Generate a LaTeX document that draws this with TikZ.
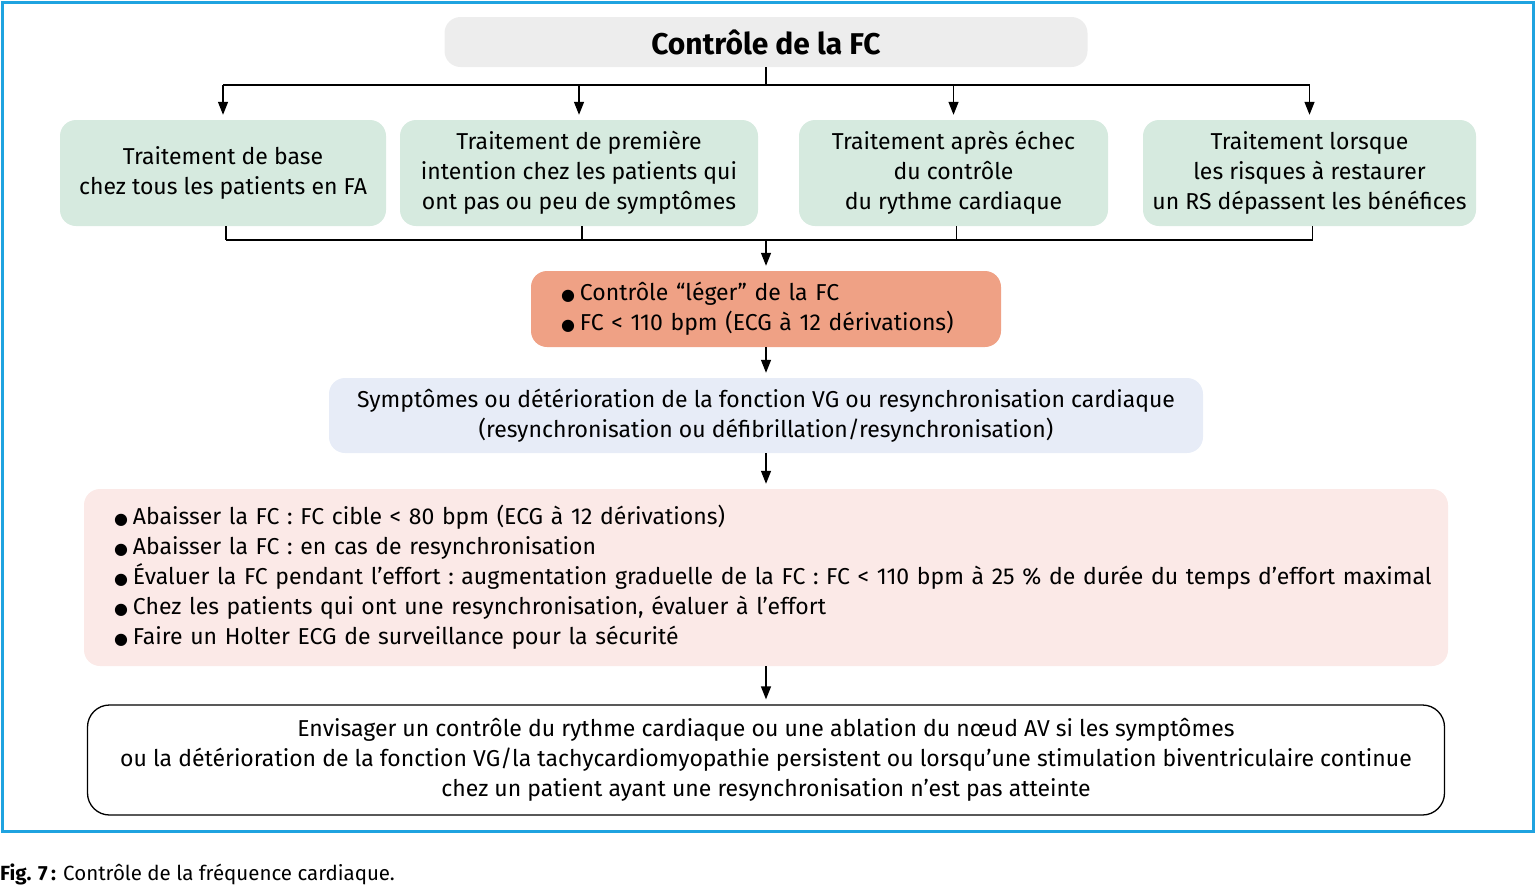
\documentclass[tikz,border=0pt]{standalone}
\usepackage{fontspec}
\setmainfont{Fira Sans}
\newfontfamily\symf{DejaVu Sans}
\usetikzlibrary{arrows.meta}
\definecolor{frameblue}{HTML}{1FA3E0}
\definecolor{boxgray}{HTML}{EDEDED}
\definecolor{boxgreen}{HTML}{D6EADF}
\definecolor{boxorange}{HTML}{EFA185}
\definecolor{boxblue}{HTML}{E7ECF7}
\definecolor{boxpink}{HTML}{FBE9E7}
\newcommand{\bul}{{\symf\fontsize{16}{16}\selectfont ●}\hspace{5pt}}
\tikzset{
  txt/.style={font=\frenchspacing\fontsize{23}{30}\selectfont, text=black},
  basebox/.style={txt, rounded corners=16pt, inner sep=0pt, align=center},
  graybox/.style={basebox, fill=boxgray},
  greenbox/.style={basebox, fill=boxgreen},
  orangebox/.style={basebox, fill=boxorange},
  bluebox/.style={basebox, fill=boxblue},
  pinkbox/.style={basebox, fill=boxpink},
  whitebox/.style={basebox, draw=black, line width=1.3pt, fill=white, rounded corners=22pt},
  conn/.style={line width=1.3pt, black},
  arr/.style={conn, -{Triangle[length=13pt,width=10pt]}, shorten >=5pt},
}
\begin{document}
\begin{tikzpicture}[x=1pt,y=-1pt]
\useasboundingbox (0,0) rectangle (1536,884);
\draw[line width=3pt, frameblue] (2,2) rectangle (1533,831);

\node[graybox, minimum width=643, minimum height=50, font=\fontsize{30}{30}\selectfont\bfseries] (title) at (766,42) {Contrôle de la FC};

\node[greenbox, minimum width=326, minimum height=106] (b1) at (223,173) {Traitement de base\\chez tous les patients en FA};
\node[greenbox, minimum width=358, minimum height=106] (b2) at (579,173) {Traitement de première\\intention chez les patients qui\\ont pas ou peu de symptômes};
\node[greenbox, minimum width=309, minimum height=106] (b3) at (953.5,173) {Traitement après échec\\du contrôle\\du rythme cardiaque};
\node[greenbox, minimum width=333, minimum height=106] (b4) at (1309.5,173) {Traitement lorsque\\les risques à restaurer\\un RS dépassent les bénéfices};

\node[orangebox, minimum height=76, text width=410, inner xsep=30pt, align=left] (orange) at (766,309) {\bul Contrôle “léger” de la FC\\\bul FC < 110 bpm (ECG à 12 dérivations)};

\node[bluebox, minimum width=874, minimum height=75] (blue) at (766,415.5) {Symptômes ou détérioration de la fonction VG ou resynchronisation cardiaque\\(resynchronisation ou défibrillation/resynchronisation)};

\node[pinkbox, minimum height=177, text width=1304, inner xsep=30pt, align=left] (pink) at (766,577.5) {\bul Abaisser la FC : FC cible < 80 bpm (ECG à 12 dérivations)\\
\bul Abaisser la FC : en cas de resynchronisation\\
\mbox{\bul Évaluer la FC pendant l’effort : augmentation graduelle de la FC : FC < 110 bpm à 25 \% de durée du temps d’effort maximal}\\
\bul Chez les patients qui ont une resynchronisation, évaluer à l’effort\\
\bul Faire un Holter ECG de surveillance pour la sécurité};

\node[whitebox, minimum width=1357, minimum height=110] (final) at (766,760) {Envisager un contrôle du rythme cardiaque ou une ablation du nœud AV si les symptômes\\ou la détérioration de la fonction VG/la tachycardiomyopathie persistent ou lorsqu’une stimulation biventriculaire continue\\chez un patient ayant une resynchronisation n’est pas atteinte};

% top split
\coordinate (split) at (766,85);
\draw[conn] (title.south) -- (split);
\draw[conn] (b1.north |- split) -- (b4.north |- split);
\foreach \b in {b1,b2,b3,b4} \draw[arr] (\b.north |- split) -- (\b.north);

% bottom merge
\coordinate (merge) at (766,240);
\draw[conn] ([xshift=3pt]b1.south) -- ([xshift=3pt]b1.south |- merge);
\draw[conn] ([xshift=3pt]b2.south) -- ([xshift=3pt]b2.south |- merge);
\draw[conn] ([xshift=3pt]b3.south) -- ([xshift=3pt]b3.south |- merge);
\draw[conn] ([xshift=3pt]b4.south) -- ([xshift=3pt]b4.south |- merge);
\draw[conn] ([xshift=3pt]b1.south |- merge) -- ([xshift=3pt]b4.south |- merge);
\draw[arr] (merge) -- (orange.north);

\draw[arr] (orange.south) -- (blue.north);
\draw[arr] (blue.south) -- (pink.north);
\draw[arr] (pink.south) -- (final.north);

\node[anchor=base west, inner sep=0pt, font=\fontsize{20.5}{22}\selectfont] (caption) at (0,880) {\textbf{Fig. 7\,:} Contrôle de la fréquence cardiaque.};
\end{tikzpicture}
\end{document}
